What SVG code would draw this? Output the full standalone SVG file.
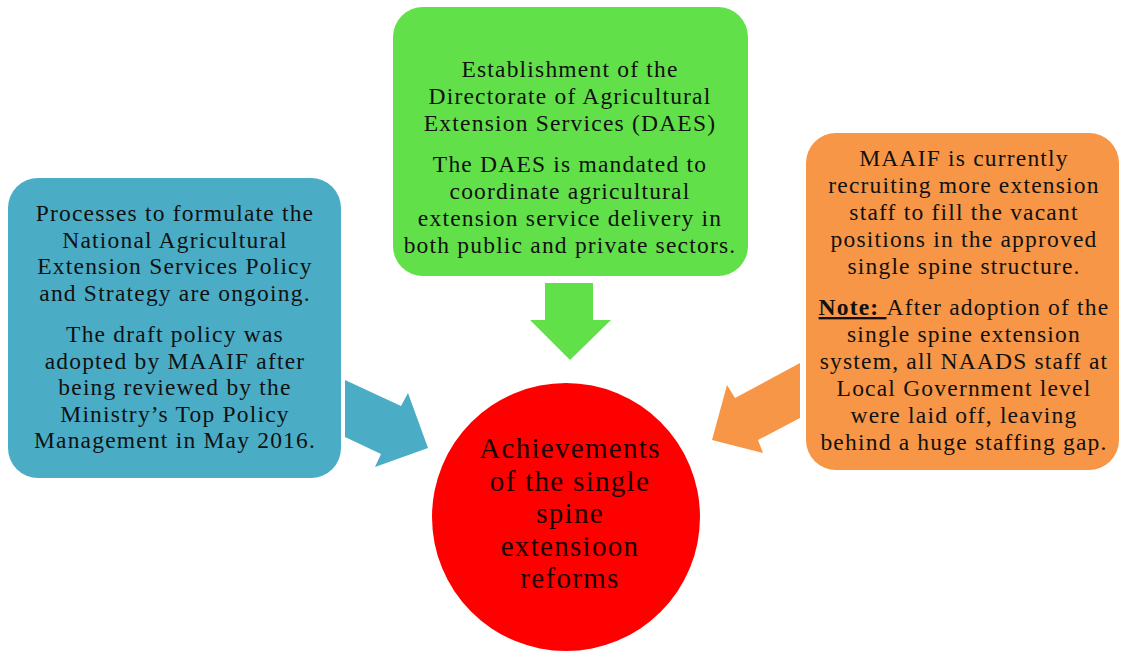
<svg xmlns="http://www.w3.org/2000/svg" width="1121" height="656" viewBox="0 0 1121 656">
  <style>
    .t { font-family: "Liberation Serif", "Times New Roman", serif; font-size: 23.5px; letter-spacing: 1.2px; fill: #111; text-anchor: middle; }
    .c { font-family: "Liberation Serif", "Times New Roman", serif; font-size: 29px; letter-spacing: 1.3px; fill: #1a0000; text-anchor: middle; }
    .blue { fill: #4BACC6; }
    .green { fill: #62E04A; }
    .orange { fill: #F79646; }
  </style>
  <rect width="1121" height="656" fill="#ffffff"/>

  <!-- block arrows pointing to the centre -->
  <g id="connectors">
    <polygon class="blue" points="345,380 401,406 408,393 428,448 375,467 381,454 345,437"/>
    <polygon class="green" points="545,283 593,283 593,320 611,320 570,360 530,320 545,320"/>
    <polygon class="orange" points="800,363 735,398 727,385 712,440 763,453 758,440 800,418"/>
  </g>

  <g id="policy">
    <rect class="blue" x="8" y="178" width="333" height="300" rx="30" ry="30"/>
    <text class="t" x="175" y="221">Processes to formulate the</text>
    <text class="t" x="175" y="247.5">National Agricultural</text>
    <text class="t" x="175" y="274">Extension Services Policy</text>
    <text class="t" x="175" y="300.5">and Strategy are ongoing.</text>
    <text class="t" x="175" y="342">The draft policy was</text>
    <text class="t" x="175" y="368.5">adopted by MAAIF after</text>
    <text class="t" x="175" y="395">being reviewed by the</text>
    <text class="t" x="175" y="421.5">Ministry’s Top Policy</text>
    <text class="t" x="175" y="448">Management in May 2016.</text>
  </g>

  <g id="daes">
    <rect class="green" x="393" y="7" width="355" height="269" rx="30" ry="30"/>
    <text class="t" x="570" y="77">Establishment of the</text>
    <text class="t" x="570" y="104">Directorate of Agricultural</text>
    <text class="t" x="570" y="131">Extension Services (DAES)</text>
    <text class="t" x="570" y="172">The DAES is mandated to</text>
    <text class="t" x="570" y="199">coordinate agricultural</text>
    <text class="t" x="570" y="226">extension service delivery in</text>
    <text class="t" x="570" y="253">both public and private sectors.</text>
  </g>

  <g id="recruitment">
    <rect class="orange" x="806" y="133" width="313" height="337" rx="30" ry="30"/>
    <text class="t" x="964" y="166">MAAIF is currently</text>
    <text class="t" x="964" y="193">recruiting more extension</text>
    <text class="t" x="964" y="220">staff to fill the vacant</text>
    <text class="t" x="964" y="247">positions in the approved</text>
    <text class="t" x="964" y="274">single spine structure.</text>
    <text class="t" x="964" y="315"><tspan font-weight="bold" text-decoration="underline">Note: </tspan>After adoption of the</text>
    <text class="t" x="964" y="342">single spine extension</text>
    <text class="t" x="964" y="369">system, all NAADS staff at</text>
    <text class="t" x="964" y="396">Local Government level</text>
    <text class="t" x="964" y="423">were laid off, leaving</text>
    <text class="t" x="964" y="450">behind a huge staffing gap.</text>
  </g>

  <g id="achievements">
    <circle cx="566" cy="517" r="134" fill="#FF0000"/>
    <text class="c" x="570" y="458">Achievements</text>
    <text class="c" x="570" y="490.5">of the single</text>
    <text class="c" x="570" y="523">spine</text>
    <text class="c" x="570" y="555.5">extensioon</text>
    <text class="c" x="570" y="588">reforms</text>
  </g>
</svg>
